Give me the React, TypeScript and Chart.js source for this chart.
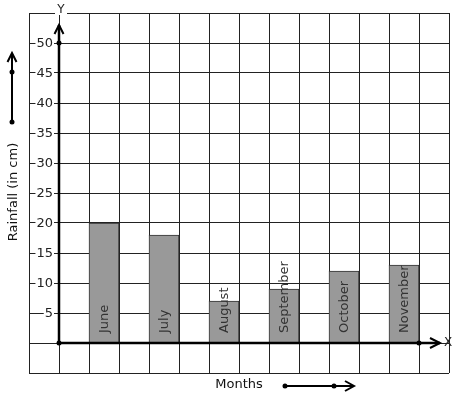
import React, { useEffect, useRef } from "react";
import { Chart, registerables } from "chart.js";

Chart.register(...registerables);

const months = ["June", "July", "August", "September", "October", "November"];
const rainfall = [20, 18, 7, 9, 12, 13];
const yTicks = [5, 10, 15, 20, 25, 30, 35, 40, 45, 50];
const xAxisLabel = "Months";
const yAxisLabel = "Rainfall (in cm)";

const FONT = "13px 'DejaVu Sans', sans-serif";

const decor = {
  id: "decor",
  afterDatasetsDraw(chart: any) {
    const ctx = chart.ctx as CanvasRenderingContext2D;
    const xs = chart.scales.x;
    const ys = chart.scales.y;
    const x0 = xs.getPixelForValue(0);
    const y0 = ys.getPixelForValue(0);
    ctx.save();
    ctx.font = FONT;
    // bar labels
    const meta = chart.getDatasetMeta(0);
    ctx.fillStyle = "#333";
    meta.data.forEach((bar: any, i: number) => {
      ctx.save();
      ctx.translate(bar.x, y0 - 10);
      ctx.rotate(-Math.PI / 2);
      ctx.textAlign = "left";
      ctx.textBaseline = "middle";
      ctx.fillText(months[i], 0, 1);
      ctx.restore();
    });
    // tick labels
    ctx.textAlign = "right";
    ctx.textBaseline = "middle";
    yTicks.forEach((v) => {
      const py = ys.getPixelForValue(v);
      const w = ctx.measureText(String(v)).width;
      ctx.fillStyle = "#fff";
      ctx.fillRect(53 - w - 1, py - 1, w + 2, 3);
      ctx.fillStyle = "#222";
      ctx.fillText(String(v), 53, py + 1);
    });
    // axes
    ctx.strokeStyle = "#000";
    ctx.fillStyle = "#000";
    ctx.lineWidth = 2.5;
    ctx.lineCap = "butt";
    const yTop = ys.top + 12;
    ctx.beginPath();
    ctx.moveTo(x0, y0);
    ctx.lineTo(x0, yTop);
    ctx.stroke();
    ctx.lineWidth = 2;
    ctx.beginPath();
    ctx.moveTo(x0 - 4.5, yTop + 9);
    ctx.lineTo(x0, yTop);
    ctx.lineTo(x0 + 4.5, yTop + 9);
    ctx.stroke();
    ctx.lineWidth = 2.5;
    const xEnd = xs.right - 9;
    ctx.beginPath();
    ctx.moveTo(x0, y0);
    ctx.lineTo(xEnd, y0);
    ctx.stroke();
    ctx.lineWidth = 2;
    ctx.beginPath();
    ctx.moveTo(xEnd - 10, y0 - 5);
    ctx.lineTo(xEnd, y0);
    ctx.lineTo(xEnd - 10, y0 + 5);
    ctx.stroke();
    // dots
    const dot = (x: number, y: number) => {
      ctx.beginPath();
      ctx.arc(x, y, 2.5, 0, Math.PI * 2);
      ctx.fill();
    };
    dot(x0, ys.getPixelForValue(50));
    dot(x0, y0);
    dot(xs.getPixelForValue(12), y0);
    // Y and X labels
    ctx.textAlign = "center";
    ctx.textBaseline = "middle";
    ctx.font = "12px 'DejaVu Sans', sans-serif";
    ctx.fillStyle = "#fff";
    ctx.fillRect(55, ys.top - 2, 12, 4);
    ctx.fillStyle = "#222";
    ctx.fillText("Y", 61, 10);
    ctx.fillText("X", 448, y0);
    // Months label and arrow
    ctx.font = FONT;
    ctx.fillStyle = "#111";
    ctx.fillText(xAxisLabel, 239, 385);
    ctx.strokeStyle = "#000";
    ctx.fillStyle = "#000";
    ctx.lineWidth = 2;
    ctx.beginPath();
    ctx.moveTo(285, 386);
    ctx.lineTo(353, 386);
    ctx.stroke();
    ctx.beginPath();
    ctx.moveTo(345, 381);
    ctx.lineTo(354, 386);
    ctx.lineTo(345, 391);
    ctx.stroke();
    dot(285, 386);
    dot(334, 386);
    // Rainfall label and arrow
    ctx.save();
    ctx.translate(14, 192);
    ctx.rotate(-Math.PI / 2);
    ctx.fillStyle = "#111";
    ctx.fillText(yAxisLabel, 0, 0);
    ctx.restore();
    ctx.beginPath();
    ctx.moveTo(12, 122);
    ctx.lineTo(12, 54);
    ctx.stroke();
    ctx.beginPath();
    ctx.moveTo(7.5, 62);
    ctx.lineTo(12, 53);
    ctx.lineTo(16.5, 62);
    ctx.stroke();
    dot(12, 122);
    dot(12, 72);
    ctx.restore();
  },
};

export default function App() {
  const ref = useRef<HTMLCanvasElement>(null);
  useEffect(() => {
    if (!ref.current) return;
    const chart = new Chart(ref.current, {
      type: "bar",
      data: {
        datasets: [
          {
            data: months.map((m, i) => ({ x: 1.5 + 2 * i, y: rainfall[i] })),
            backgroundColor: "#999999",
            borderColor: "#333333",
            borderWidth: 1,
            barPercentage: 1,
            categoryPercentage: 1,
          },
        ],
      },
      options: {
        animation: false,
        responsive: false,
        devicePixelRatio: 1,
        layout: { padding: { left: 29, top: 13, right: 8, bottom: 26 } },
        plugins: { legend: { display: false }, tooltip: { enabled: false } },
        scales: {
          x: {
            type: "linear",
            offset: false,
            min: -1,
            max: 13,
            ticks: { display: false, stepSize: 1 },
            grid: { color: "#222", lineWidth: 1, drawTicks: false, offset: false },
            border: { display: false },
          },
          y: {
            type: "linear",
            min: -5,
            max: 55,
            ticks: { display: false, stepSize: 5 },
            grid: { color: "#222", lineWidth: 1, drawTicks: false },
            border: { display: false },
          },
        },
      },
      plugins: [decor],
    });
    return () => chart.destroy();
  }, []);
  return (
    <div style={{ position: "absolute", left: 0, top: 0, width: 457, height: 399, background: "#fff" }}>
      <canvas ref={ref} width={457} height={399} style={{ display: "block" }} />
    </div>
  );
}
